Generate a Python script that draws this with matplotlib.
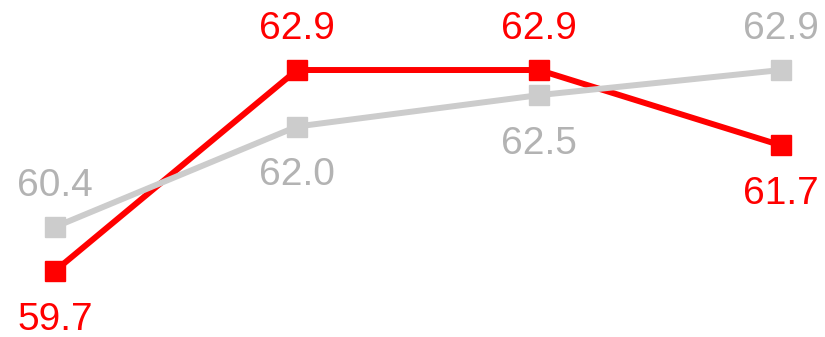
import matplotlib.pyplot as plt

plt.rcParams['font.family'] = ['Liberation Sans', 'DejaVu Sans']

# values for the two series, one per period
periods = [0, 1, 2, 3]
red_values = [59.7, 62.9, 62.9, 61.7]
grey_values = [60.4, 62.0, 62.5, 62.9]
# label side for each point: 1 above, -1 below
red_side = [-1, 1, 1, -1]
grey_side = [1, -1, -1, 1]

RED = '#ff0000'
GREY_LINE = '#cccccc'
GREY_TEXT = '#b3b3b3'

fig = plt.figure(figsize=(8.25, 3.37), dpi=100)
ax = fig.add_axes([0, 0, 1, 1])

ax.plot(periods, red_values, color=RED, lw=4.3, marker='s', ms=14.5,
        zorder=2, solid_joinstyle='miter')
ax.plot(periods, grey_values, color=GREY_LINE, lw=4.3, marker='s', ms=14.5,
        zorder=3, solid_joinstyle='miter')


def label_points(xs, ys, sides, color):
    for x, y, s in zip(xs, ys, sides):
        dy = 22.6 if s > 0 else -42.2
        ax.annotate(f"{y:.1f}", (x, y), xytext=(0, dy), textcoords='offset points',
                    ha='center', va='baseline', fontsize=28, color=color)


label_points(periods, red_values, red_side, RED)
label_points(periods, grey_values, grey_side, GREY_TEXT)

ax.set_xlim(-0.227, 3.182)
ax.set_ylim(58.648, 64.015)
ax.axis('off')

fig.savefig('out.png', dpi=100)
